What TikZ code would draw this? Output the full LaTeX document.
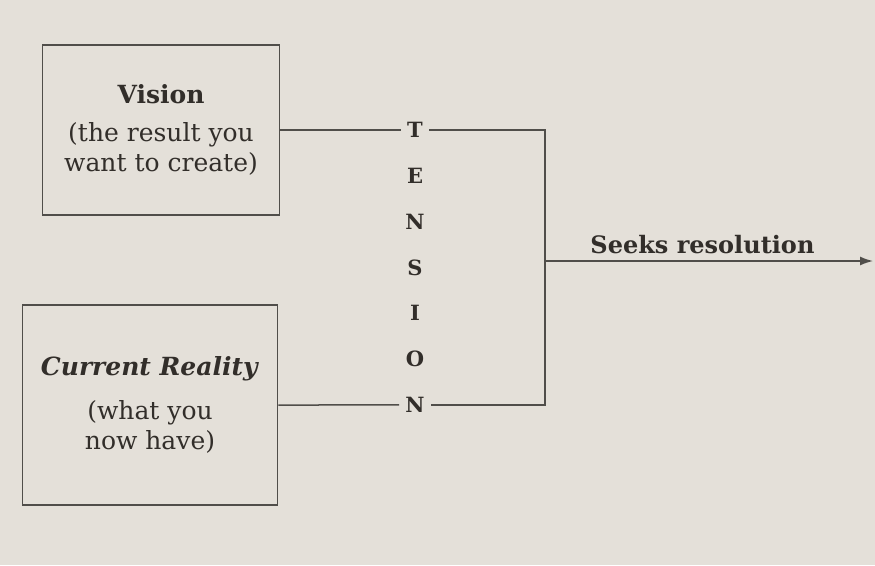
\documentclass[tikz,border=0pt]{standalone}
\usepackage{fontspec}
\setmainfont{DejaVu Serif}
\usetikzlibrary{arrows.meta,calc}
\definecolor{paper}{RGB}{228,224,217}
\definecolor{ink}{RGB}{50,46,42}
\definecolor{rule}{RGB}{80,78,74}
\tikzset{every picture/.append style={x=1pt,y=-1pt}}
\tikzset{box/.style={draw=rule, line width=1.5pt, align=center, text=ink, font=\fontsize{25}{30}\selectfont}}
\tikzset{letter/.style={text=ink, inner sep=6pt, font=\fontsize{21}{21}\selectfont\bfseries}}
\tikzset{edge/.style={draw=rule, line width=1.5pt}}
\tikzset{arc/.style={edge, -{Latex[length=13pt,width=9pt]}}}

\begin{document}
\begin{tikzpicture}
\fill[paper] (0,0) rectangle (875,565);
\useasboundingbox (0,0) rectangle (875,565);
%the two boxes
\node (vis) at (161,130)[box, minimum width=237pt, minimum height=170pt]{\textbf{Vision}\\[8pt](the result you\\want to create)};
\node (cur) at (150,405)[box, minimum width=255pt, minimum height=200pt]{\textbf{\itshape Current Reality}\\[14pt](what you\\now have)};
%the word down the middle
\foreach \c [count=\i] in {T,E,N,S,I,O,N}
  \node (t\i) at (415,{130+45.83*(\i-1)})[letter]{\c};
%bracket and way out
\coordinate (top) at (545,130);
\coordinate (out) at (545,261);
\coordinate (tip) at (873,261);

\draw[edge] (vis.east)--(t1.west);
\draw[edge] (cur.east)--(t7.west);
\draw[edge] (t1.east)--(top) |- (t7.east);
\draw[arc] (out)--(tip)node[pos=0.48, above=3pt, text=ink, font=\fontsize{24}{24}\selectfont\bfseries]{Seeks resolution};
\end{tikzpicture}
\end{document}
